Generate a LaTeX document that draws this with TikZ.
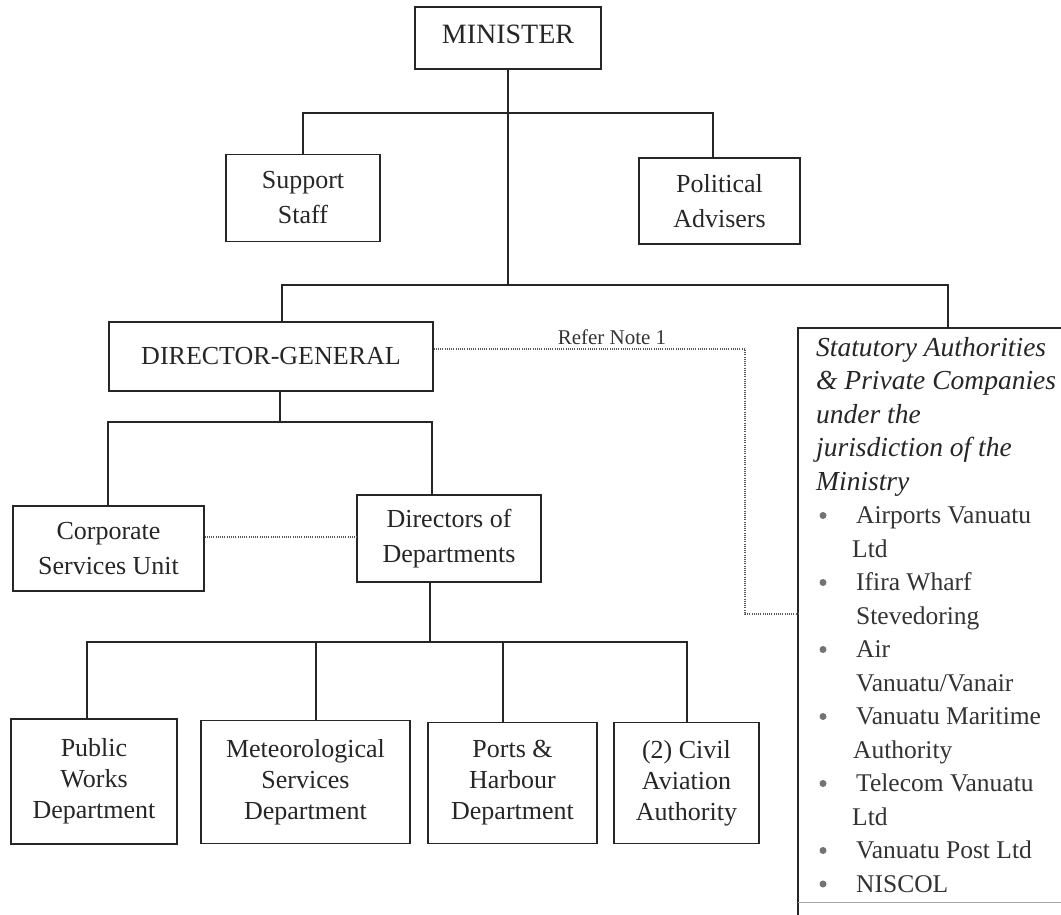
\documentclass[tikz,border=0pt]{standalone}
\usepackage{fontspec}
\setmainfont{Liberation Serif}
\begin{document}
\begin{tikzpicture}[x=1pt,y=-1pt,
  box/.style={draw=black!85,line width=1.1pt,inner sep=0pt,align=center,text=black!85,
    font=\fontsize{26}{35}\selectfont},
  bbox/.style={box,font=\fontsize{26}{31}\selectfont},
  conn/.style={draw=black!85,line width=1.1pt},
  dots/.style={draw=black!65,line width=1.3pt,dash pattern=on 1.1pt off 1.1pt},
  itl/.style={anchor=base west,inner sep=0pt,text=black!85,font=\fontsize{27.5}{30}\selectfont\itshape},
  itm/.style={anchor=base west,inner sep=0pt,text=black!80,font=\fontsize{25.5}{30}\selectfont},
  bul/.style={circle,fill=black!55,inner sep=0pt,minimum size=7pt},
  ]
\useasboundingbox (0,0) rectangle (1061,914);
\clip (0,0) rectangle (1061,914);

% boxes
\node[box,minimum width=186pt,minimum height=62pt,font=\fontsize{28}{30}\selectfont,text depth=8pt] (min) at (508,38) {MINISTER};
\node[box,minimum width=154pt,minimum height=87pt] (sup) at (303,198) {Support\\Staff};
\node[box,minimum width=161pt,minimum height=86pt] (pol) at (719.5,201) {Political\\Advisers};
\node[box,minimum width=324pt,minimum height=69pt] (dg) at (271,356.5) {DIRECTOR-GENERAL};
\node[box,minimum width=191pt,minimum height=85pt] (corp) at (108.5,548.5) {Corporate\\Services Unit};
\node[box,minimum width=184pt,minimum height=87pt] (dir) at (449,538.5) {Directors of\\Departments};
\node[bbox,minimum width=166pt,minimum height=125pt] (pw) at (94,781.5) {Public\\Works\\Department};
\node[bbox,minimum width=209pt,minimum height=123pt] (met) at (305.5,782) {Meteorological\\Services\\Department};
\node[bbox,minimum width=169pt,minimum height=121pt] (ph) at (512.5,783) {Ports \&\\Harbour\\Department};
\node[bbox,minimum width=145pt,minimum height=121pt] (ca) at (686.5,783) {(2) Civil\\Aviation\\Authority};

% statutory box
\node[inner sep=0pt,minimum width=300pt,minimum height=600pt,anchor=north west] (stat) at (798,328) {};
\draw[conn] (stat.north east) -- (stat.north west) -- (stat.south west);
\coordinate (sb) at (798,902);
\draw[black!35,line width=0.8pt] (sb) -- (sb -| stat.east);

% connectors
\coordinate (b1l) at (303,113);
\coordinate (b1r) at (713,113);
\coordinate (b1c) at (508,113);
\coordinate (b2c) at (508,285);
\coordinate (b2l) at (282,285);
\coordinate (b2r) at (948,285);
\draw[conn] (min.south) -- (b1c);
\draw[conn] (sup.north) -- (b1l) -- (b1r) -- (b1r |- pol.north);
\draw[conn] (b1c) -- (b2c);
\draw[conn] (b2l |- dg.north) -- (b2l) -- (b2r) -- (b2r |- stat.north);

\coordinate (b3c) at (280,422);
\coordinate (b3l) at (108,422);
\coordinate (b3r) at (432,422);
\draw[conn] (b3c |- dg.south) -- (b3c);
\draw[conn] (b3l |- corp.north) -- (b3l) -- (b3r) -- (b3r |- dir.north);

\coordinate (b4c) at (430,642);
\coordinate (b4a) at (87,642);
\coordinate (b4b) at (316,642);
\coordinate (b4d) at (503,642);
\coordinate (b4e) at (687,642);
\draw[conn] (b4c |- dir.south) -- (b4c);
\draw[conn] (b4a |- pw.north) -- (b4a) -- (b4e) -- (b4e |- ca.north);
\draw[conn] (b4b) -- (b4b |- met.north);
\draw[conn] (b4d) -- (b4d |- ph.north);

% dotted links
\coordinate (r1) at (745,349);
\coordinate (r2) at (745,614);
\draw[dots] (dg.east |- r1) -- (r1) -- (r2) -- (r2 -| stat.west);
\node[inner sep=0pt,text=black!80,font=\fontsize{21}{24}\selectfont] (note) at (612,337) {Refer Note 1};
\coordinate (cd) at (280,537);
\draw[dots] (corp.east |- cd) -- (dir.west |- cd);

% statutory text
\node[itl] (s1) at (816,356) {Statutory Authorities};
\node[itl] (s2) at (816,389.5) {\& Private Companies};
\node[itl] (s3) at (816,423) {under the};
\node[itl] (s4) at (816,456.5) {jurisdiction of the};
\node[itl] (s5) at (816,490) {Ministry};
\node[itm] (i1) at (856,523.5) {Airports Vanuatu};
\node[itm] (i1b) at (852,557) {Ltd};
\node[itm] (i2) at (856,590.5) {Ifira Wharf};
\node[itm] (i2b) at (856,624) {Stevedoring};
\node[itm] (i3) at (856,657.5) {Air};
\node[itm] (i3b) at (856,691) {Vanuatu/Vanair};
\node[itm] (i4) at (856,724.5) {Vanuatu Maritime};
\node[itm] (i4b) at (853,758) {Authority};
\node[itm] (i5) at (856,791.5) {Telecom Vanuatu};
\node[itm] (i5b) at (852,825) {Ltd};
\node[itm] (i6) at (856,858.5) {Vanuatu Post Ltd};
\node[itm] (i7) at (856,892) {NISCOL};
\node[bul] (d1) at (823,515.5) {};
\node[bul] (d2) at (823,582.5) {};
\node[bul] (d3) at (823,649.5) {};
\node[bul] (d4) at (823,716.5) {};
\node[bul] (d5) at (823,783.5) {};
\node[bul] (d6) at (823,850.5) {};
\node[bul] (d7) at (823,884) {};
\end{tikzpicture}
\end{document}
